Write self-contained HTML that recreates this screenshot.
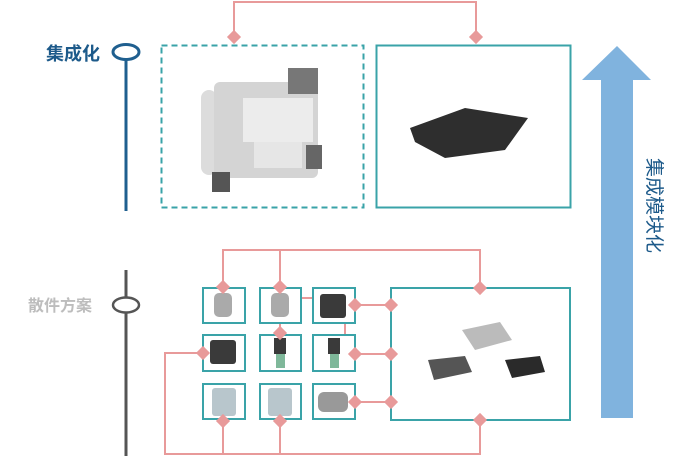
<!DOCTYPE html>
<html><head><meta charset="utf-8"><style>
html,body{margin:0;padding:0;background:#fff;}
svg{display:block;font-family:"Liberation Sans","Noto Sans CJK SC",sans-serif;}
</style></head><body>
<svg width="678" height="459" viewBox="0 0 678 459" xmlns="http://www.w3.org/2000/svg">
<defs>
<g id="dm"><rect x="-5" y="-5" width="10" height="10" fill="#e89a9a" transform="rotate(45)"/></g>
</defs>
<text x="46" y="60" font-size="18" font-weight="bold" fill="#1d5a8a">集成化</text>
<line x1="126" y1="60" x2="126" y2="211" stroke="#1f5f8f" stroke-width="3"/>
<ellipse cx="126" cy="52" rx="13" ry="7.5" fill="#fff" stroke="#1f5f8f" stroke-width="3"/>
<text x="28" y="311" font-size="16" font-weight="bold" fill="#bdbdbd">散件方案</text>
<line x1="126" y1="270" x2="126" y2="456" stroke="#555" stroke-width="3"/>
<ellipse cx="126" cy="305" rx="13" ry="7.5" fill="#fff" stroke="#555" stroke-width="2.5"/>

<polyline points="234,36 234,2 476,2 476,36" fill="none" stroke="#e89a9a" stroke-width="2"/>
<use href="#dm" x="234" y="37"/><use href="#dm" x="476" y="37"/>
<rect x="161.5" y="45.5" width="202" height="162" fill="none" stroke="#3aa3a8" stroke-width="2" stroke-dasharray="6,4"/>
<rect x="376.5" y="45.5" width="194" height="162" fill="none" stroke="#3aa3a8" stroke-width="2"/>
<rect x="201" y="90" width="16" height="85" rx="8" fill="#dcdcdc"/>
<rect x="214" y="82" width="104" height="96" rx="6" fill="#d4d4d4"/>
<rect x="243" y="98" width="70" height="44" fill="#ececec"/>
<rect x="254" y="142" width="48" height="26" fill="#e6e6e6"/>
<rect x="288" y="68" width="30" height="26" fill="#777"/>
<rect x="306" y="145" width="16" height="24" fill="#666"/>
<rect x="212" y="172" width="18" height="20" fill="#555"/>
<polygon points="410,128 465,108 528,118 505,150 445,158 415,142" fill="#2e2e2e"/>

<g fill="none" stroke="#e89a9a" stroke-width="2">
<polyline points="223,288 223,250 480,250 480,288"/>
<line x1="280" y1="250" x2="280" y2="288"/>
<line x1="280" y1="323" x2="280" y2="335"/>
<polyline points="297,298 345,298 345,354 391,354"/>
<line x1="355" y1="305" x2="391" y2="305"/>
<line x1="355" y1="354" x2="391" y2="354"/>
<line x1="355" y1="402" x2="391" y2="402"/>
<polyline points="203,353 165,353 165,454 480,454 480,420"/>
<line x1="223" y1="420" x2="223" y2="454"/>
<line x1="280" y1="420" x2="280" y2="454"/>
</g>
<g fill="#fff" stroke="#3aa3a8" stroke-width="2">
<rect x="203" y="288" width="42" height="35"/><rect x="260" y="288" width="41" height="35"/><rect x="313" y="288" width="42" height="35"/>
<rect x="203" y="335" width="42" height="36"/><rect x="260" y="335" width="41" height="36"/><rect x="313" y="335" width="42" height="36"/>
<rect x="203" y="384" width="42" height="35"/><rect x="260" y="384" width="41" height="35"/><rect x="313" y="384" width="42" height="35"/>
<rect x="391" y="288" width="179" height="132"/>
</g>
<g fill="#aaa"><rect x="214" y="293" width="18" height="24" rx="5"/><rect x="271" y="293" width="18" height="24" rx="5"/></g>
<g fill="#3a3a3a"><rect x="320" y="294" width="26" height="24" rx="3"/><rect x="210" y="340" width="26" height="24" rx="3"/>
<rect x="274" y="338" width="12" height="16"/><rect x="328" y="338" width="12" height="16"/></g>
<g fill="#7fb89a"><rect x="276" y="354" width="9" height="14"/><rect x="330" y="354" width="9" height="14"/></g>
<g fill="#b8c6cc"><rect x="212" y="388" width="24" height="28" rx="3"/><rect x="268" y="388" width="24" height="28" rx="3"/></g>
<rect x="318" y="392" width="30" height="20" rx="6" fill="#999"/>
<polygon points="462,330 500,322 512,340 475,350" fill="#bbb"/>
<polygon points="428,360 465,356 472,372 434,380" fill="#555"/>
<polygon points="505,360 540,356 545,372 512,378" fill="#2a2a2a"/>
<use href="#dm" x="223" y="287"/><use href="#dm" x="280" y="287"/><use href="#dm" x="480" y="288"/>
<use href="#dm" x="280" y="333"/><use href="#dm" x="355" y="305"/><use href="#dm" x="391" y="305"/>
<use href="#dm" x="355" y="354"/><use href="#dm" x="391" y="354"/><use href="#dm" x="203" y="353"/>
<use href="#dm" x="355" y="402"/><use href="#dm" x="391" y="402"/>
<use href="#dm" x="223" y="421"/><use href="#dm" x="280" y="421"/><use href="#dm" x="480" y="420"/>

<polygon points="617,46 651,80 633,80 633,418 601,418 601,80 582,80" fill="#80b3de"/>
<text transform="translate(648,158) rotate(90)" font-size="19" fill="#1d5a8a">集成模块化</text>
</svg>
</body></html>
